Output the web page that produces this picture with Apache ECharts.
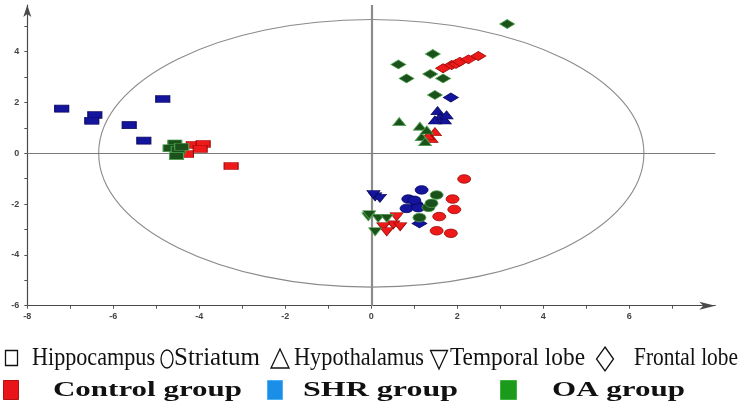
<!DOCTYPE html>
<html><head><meta charset="utf-8">
<script src="https://cdn.jsdelivr.net/npm/echarts@6/dist/echarts.min.js"></script>
<style>html,body{margin:0;padding:0;background:#fff}#c{width:741px;height:412px}</style>
</head><body><div id="c"></div>
<script>
// ---- data (PC1, PC2) ----
const ctrlHippo    = [[-4.14,0.33],[-3.91,0.37],[-3.98,0.17],[-4.30,-0.03],[-3.26,-0.50]];
const ctrlStriatum = [[2.16,-1.01],[1.89,-1.80],[1.93,-2.21],[1.58,-2.49],[1.52,-3.05],[1.85,-3.15]];
const ctrlHypo     = [[1.48,0.85],[1.40,0.59],[1.32,0.70]];
const ctrlTemporal = [[0.59,-2.50],[0.51,-2.82],[0.28,-2.89],[0.67,-2.89],[0.36,-3.09]];
const ctrlFrontal  = [[1.67,3.35],[1.87,3.48],[1.97,3.52],[2.06,3.61],[2.26,3.70],[2.49,3.83]];

const shrHippo     = [[-7.20,1.76],[-6.43,1.51],[-6.50,1.28],[-5.63,1.11],[-5.29,0.50],[-4.85,2.14]];
const shrStriatum  = [[1.17,-1.44],[0.86,-1.80],[1.06,-2.04],[0.82,-2.17],[1.09,-2.14],[1.00,-1.85]];
const shrHypo      = [[1.54,1.68],[1.60,1.44],[1.71,1.31],[1.48,1.31],[1.75,1.51]];
const shrTemporal  = [[0.09,-1.71],[0.20,-1.77],[0.05,-1.62]];
const shrFrontal   = [[1.85,2.20],[1.12,-2.76]];

const oaHippo      = [[-4.57,0.39],[-4.68,0.20],[-4.49,0.13],[-4.53,-0.11],[-4.41,0.26]];
const oaStriatum   = [[1.52,-1.64],[1.33,-2.13],[1.12,-2.53],[1.40,-1.97]];
const oaHypo       = [[0.65,1.25],[1.13,1.07],[1.17,0.65],[1.25,0.46],[1.29,0.92]];
const oaTemporal   = [[-0.07,-2.50],[0.16,-2.56],[0.36,-2.56],[0.09,-3.09],[-0.05,-2.42]];
const oaFrontal    = [[3.16,5.09],[1.43,3.91],[0.63,3.50],[0.82,2.95],[1.37,3.12],[1.67,2.95],[1.48,2.30]];

// confidence ellipse: centre x, centre y, semi-axis x, semi-axis y
const ellipse = [[0, 0, 6.34, 5.27]];

const xTicks  = [-8,-7,-6,-5,-4,-3,-2,-1,0,1,2,3,4,5,6,7];
const xLabels = [-8,-6,-4,-2,0,2,4,6];
const yTicks  = [-6,-5,-4,-3,-2,-1,0,1,2,3,4,5];
const yLabels = [-6,-4,-2,0,2,4];

const tissueNames = ['Hippocampus','Striatum','Hypothalamus','Temporal lobe','Frontal lobe'];
const groupNames  = ['Control group','SHR group','OA group'];

// ---- styles ----
const groupColor  = {ctrl:'#ee1a1a', shr:'#14149c', oa:'#1b521b'};
const groupBorder = {ctrl:'#9a0a0a', shr:'#0a0a60', oa:'#4ea04e'};
const shapes = {
  hippo:   {symbol:'rect', size:[14,7], rotate:0},
  striatum:{symbol:'circle', size:[13,8.5], rotate:0},
  hypo:    {symbol:'triangle', size:[13,8], rotate:0},
  temporal:{symbol:'triangle', size:[13,8], rotate:180},
  frontal: {symbol:'diamond', size:[15,9], rotate:0}
};
const sets = [
  ['ctrl','hippo',ctrlHippo],['ctrl','striatum',ctrlStriatum],['ctrl','hypo',ctrlHypo],['ctrl','temporal',ctrlTemporal],['ctrl','frontal',ctrlFrontal],
  ['shr','hippo',shrHippo],['shr','striatum',shrStriatum],['shr','hypo',shrHypo],['shr','temporal',shrTemporal],['shr','frontal',shrFrontal],
  ['oa','hippo',oaHippo],['oa','striatum',oaStriatum],['oa','hypo',oaHypo],['oa','temporal',oaTemporal],['oa','frontal',oaFrontal]
];

const scatterSeries = sets.map(([g,t,d]) => ({
  type:'scatter', name:g+'-'+t, data:d, z:5,
  symbol:shapes[t].symbol, symbolSize:shapes[t].size, symbolRotate:shapes[t].rotate,
  itemStyle:{color:groupColor[g], borderColor:groupBorder[g], borderWidth:0.8, opacity:1},
  emphasis:{disabled:true}
}));

const ellipseSeries = {
  type:'custom', data:ellipse, z:2, silent:true,
  encode:{x:0, y:1},
  renderItem:(params, api) => {
    const c = api.coord([api.value(0), api.value(1)]);
    const s = api.size([api.value(2), api.value(3)]);
    return {type:'ellipse', shape:{cx:c[0], cy:c[1], rx:s[0], ry:s[1]},
            style:{fill:'none', stroke:'#8a8a8a', lineWidth:1.1}};
  },
  markLine:{
    silent:true, symbol:'none', label:{show:false}, animation:false,
    data:[
      {xAxis:0, lineStyle:{color:'#8c8c8c', width:2.2, type:'solid'}},
      {yAxis:0, lineStyle:{color:'#7a7a7a', width:1, type:'solid'}}
    ]
  }
};

// ---- legend graphics ----
const mctx = document.createElement('canvas').getContext('2d');
function fitText(text, x, y, width, font) {
  mctx.font = font;
  const w = mctx.measureText(text).width;
  return {type:'text', x:x, y:y, scaleX: width / w, silent:true,
          style:{text:text, font:font, fill:'#111', align:'left', verticalAlign:'middle'}};
}
const f1 = '25px "Liberation Serif"';
const f2 = 'bold 22px "Liberation Serif"';
const L1 = 358, L2 = 390;
const legendGraphics = [
  {type:'rect', shape:{x:5.5, y:350.5, width:12, height:15}, style:{fill:'none', stroke:'#111', lineWidth:1.3}},
  fitText(tissueNames[0], 32, L1, 123, f1),
  {type:'ellipse', shape:{cx:167, cy:359, rx:6, ry:9}, style:{fill:'none', stroke:'#111', lineWidth:1.3}},
  fitText(tissueNames[1], 174, L1, 86, f1),
  {type:'polygon', shape:{points:[[280,349],[271,368],[289,368]]}, style:{fill:'none', stroke:'#111', lineWidth:1.3}},
  fitText(tissueNames[2], 294, L1, 130, f1),
  {type:'polygon', shape:{points:[[430.5,350.5],[447.5,350.5],[439,369]]}, style:{fill:'none', stroke:'#111', lineWidth:1.3}},
  fitText(tissueNames[3], 450, L1, 135, f1),
  {type:'polygon', shape:{points:[[605,347],[613.5,359],[605,371],[596.5,359]]}, style:{fill:'none', stroke:'#111', lineWidth:1.3}},
  fitText(tissueNames[4], 634, L1, 104, f1),

  {type:'rect', shape:{x:3.5, y:380.5, width:15, height:19}, style:{fill:'#e8141a', stroke:'#b41010', lineWidth:1}},
  fitText(groupNames[0], 53, L2, 189, f2),
  {type:'rect', shape:{x:267.5, y:380.5, width:15, height:19}, style:{fill:'#1b8ee8', stroke:'#49b0f5', lineWidth:1}},
  fitText(groupNames[1], 303, L2, 155, f2),
  {type:'rect', shape:{x:500.5, y:380.5, width:16, height:19}, style:{fill:'#1b9a1b', stroke:'#3fb33f', lineWidth:1}},
  fitText(groupNames[2], 552, L2, 133, f2)
];

const axisLabelStyle = {color:'#444', fontSize:9, fontWeight:'bold', fontFamily:'"Liberation Sans", Arial, sans-serif'};

const option = {
  animation:false,
  backgroundColor:'#ffffff',
  grid:{left:27.3, right:25.7, top:5, bottom:106.3, containLabel:false},
  xAxis:{
    type:'value', min:-8, max:8, interval:1,
    axisLine:{show:true, onZero:false, lineStyle:{color:'#4a4a4a', width:1.2}, symbol:['none','arrow'], symbolSize:[6,16]},
    axisTick:{show:true, inside:false, length:3, customValues:xTicks, lineStyle:{color:'#555'}},
    axisLabel:{show:true, margin:6, customValues:xLabels, ...axisLabelStyle},
    splitLine:{show:false}
  },
  yAxis:{
    type:'value', min:-6, max:5.84, interval:1,
    axisLine:{show:true, onZero:false, lineStyle:{color:'#4a4a4a', width:1.2}, symbol:['none','arrow'], symbolSize:[6,12]},
    axisTick:{show:true, inside:false, length:3, customValues:yTicks, lineStyle:{color:'#555'}},
    axisLabel:{show:true, margin:8, customValues:yLabels, ...axisLabelStyle},
    splitLine:{show:false}
  },
  series:[ellipseSeries, ...scatterSeries],
  graphic:legendGraphics
};

const chart = echarts.init(document.getElementById('c'), null, {renderer:'canvas'});
chart.setOption(option);
</script>
</body></html>
